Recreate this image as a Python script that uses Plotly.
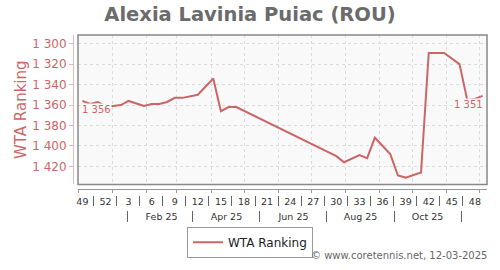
import datetime as dt
import plotly.graph_objects as go

# ---- data ----
iso_years = [2024, 2024, 2024, 2024] + [2025] * 29
iso_weeks = [49, 50, 51, 52,
             1, 2, 3, 5, 6, 7, 8, 9, 10, 12, 14, 15, 16, 17,
             30, 31, 33, 34, 35, 37, 38, 39, 41, 42, 44, 46, 47, 48, 49]
ranking = [1356, 1359, 1357, 1361,
           1361, 1360, 1356, 1361, 1359, 1359, 1357, 1353, 1353, 1350, 1334, 1366, 1362, 1362,
           1410, 1416, 1409, 1412, 1392, 1408, 1429, 1431, 1426, 1309, 1309, 1320, 1355, 1354, 1351]

week_tick_years = [2024, 2024] + [2025] * 16
week_tick_weeks = [49, 52, 3, 6, 9, 12, 15, 18, 21, 24, 27, 30, 33, 36, 39, 42, 45, 48]
month_tick_months = [2, 4, 6, 8, 10]
month_tick_labels = ["Feb 25", "Apr 25", "Jun 25", "Aug 25", "Oct 25"]
month_sep_months = [1, 3, 5, 7, 9, 11]
y_ticks = [1300, 1320, 1340, 1360, 1380, 1400, 1420]

RED = "#cc6666"


def thursday(y, w):
    return dt.date.fromisocalendar(y, w, 4)


x = [thursday(y, w) for y, w in zip(iso_years, iso_weeks)]
wk_pos = [thursday(y, w) for y, w in zip(week_tick_years, week_tick_weeks)]
wk_sep = [p + dt.timedelta(days=10, hours=12) for p in wk_pos[:-1]]
mo_pos = [dt.date(2025, m, 15) for m in month_tick_months]
mo_sep = [dt.date(2025, m, 15) for m in month_sep_months]

xrange_ = ["2024-12-01", "2025-12-08"]


def fmt(v):
    return f"{v:,}".replace(",", " ")


fig = go.Figure()
fig.add_trace(go.Scatter(x=x, y=ranking, mode="lines", name="WTA Ranking",
                         line=dict(color=RED, width=2), hoverinfo="skip"))
# invisible helper traces so the label-row axes are drawn
for ax in ("x2", "x3"):
    fig.add_trace(go.Scatter(x=x, y=ranking, mode="lines", xaxis=ax, yaxis="y",
                             line=dict(color="rgba(0,0,0,0)", width=0),
                             showlegend=False, hoverinfo="skip"))

H, W = 270, 500
mt, mb, ml, mr = 35, 40, 73, 13
ph = H - mt - mb
pw = W - ml - mr


def py(ypix):
    return (H - mb - ypix) / ph


fig.update_layout(
    width=W, height=H,
    margin=dict(l=ml, r=mr, t=mt, b=mb),
    paper_bgcolor="white", plot_bgcolor="#f9f9f9",
    separators=". ",
    font=dict(family="DejaVu Sans", color="#444"),
    title=dict(text="<b>Alexia Lavinia Puiac (ROU)</b>", x=0.5, xref="container",
               y=1 - 14 / H, yref="container", yanchor="middle",
               font=dict(size=19.5, color="#6b6b6b", family="DejaVu Sans")),
    showlegend=True,
    legend=dict(orientation="h", x=(250 - ml) / pw, xanchor="center",
                y=py(250), yanchor="middle", bordercolor="#999", borderwidth=1,
                bgcolor="white", font=dict(size=12, color="#222"),
                itemwidth=30),
    xaxis=dict(type="date", range=xrange_, domain=[(78 - ml) / pw, 1],
               anchor="free", position=py(194.5),
               showline=True, linecolor="#999", linewidth=1,
               tickmode="linear", tick0="2025-01-01", dtick="M1",
               ticks="outside", ticklen=3, tickcolor="#999",
               showticklabels=False,
               showgrid=True, gridcolor="#dcdcdc", griddash="dot", gridwidth=1,
               zeroline=False),
    xaxis2=dict(type="date", range=xrange_, overlaying="x",
                domain=[(78 - ml) / pw, 1], anchor="free", position=py(200.5),
                showline=False, showgrid=False, zeroline=False,
                tickmode="array", tickvals=wk_pos,
                ticktext=[str(w) for w in week_tick_weeks], ticks="",
                tickfont=dict(size=9.5, color="#333"),
                minor=dict(tickmode="array", tickvals=wk_sep, ticks="outside",
                           ticklen=10, tickcolor="#666", tickwidth=1, showgrid=False)),
    xaxis3=dict(type="date", range=xrange_, overlaying="x",
                domain=[(78 - ml) / pw, 1], anchor="free", position=py(216.5),
                showline=False, showgrid=False, zeroline=False,
                tickmode="array", tickvals=mo_pos, ticktext=month_tick_labels,
                ticks="", tickfont=dict(size=9.5, color="#333"),
                minor=dict(tickmode="array", tickvals=mo_sep, ticks="outside",
                           ticklen=11, tickcolor="#666", tickwidth=1, showgrid=False)),
    yaxis=dict(range=[1437.7, 1291.5], domain=[py(190), 1],
               anchor="free", position=0,
               showline=True, linecolor="#e6b8b8", linewidth=1,
               tickmode="array", tickvals=y_ticks, separatethousands=True,
               ticks="outside", ticklen=4, tickcolor="#e6b8b8",
               tickfont=dict(size=12, color=RED),
               showgrid=True, gridcolor="#dcdcdc", griddash="dot", gridwidth=1,
               zeroline=False,
               title=dict(text="WTA Ranking", font=dict(size=15, color=RED), standoff=0)),
)

# plot frame
fig.add_shape(type="rect", xref="x domain", yref="y domain", x0=0, x1=1, y0=0, y1=1,
              line=dict(color="#888", width=1.5), fillcolor="rgba(0,0,0,0)", layer="above")

# first / last value labels
fig.add_annotation(x=x[0], y=ranking[0], text=fmt(ranking[0]), showarrow=False,
                   xanchor="left", yanchor="top", yshift=-2, xshift=-1,
                   font=dict(size=10, color=RED), bgcolor="#f9f9f9", borderpad=0)
fig.add_annotation(x=x[-1], y=ranking[-1], text=fmt(ranking[-1]), showarrow=False,
                   xanchor="right", yanchor="top", yshift=-2, xshift=1,
                   font=dict(size=10, color=RED), bgcolor="#f9f9f9", borderpad=0)

fig.add_annotation(xref="paper", yref="paper", x=(489 - ml) / pw, y=py(263.5),
                   xanchor="right", yanchor="middle", showarrow=False,
                   text="© www.coretennis.net, 12-03-2025",
                   font=dict(size=10, color="#666"))

fig.write_html("out.html")
